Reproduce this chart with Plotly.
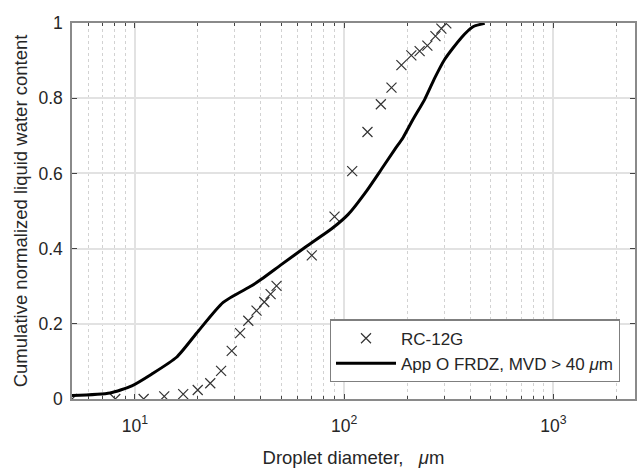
import plotly.graph_objects as go

# RC-12G measured points
rc_x = [5.0, 8.05, 11.0, 13.8, 17.0, 19.95, 22.9, 25.8, 29.0, 31.8, 34.8, 38.1, 41.5, 44.5, 47.5,
        70.0, 89.9, 109.2, 129.2, 149.7, 168.3, 187.7, 209.4, 229.4, 249.8, 273.0, 291.4, 307.7]
rc_y = [0.0, 0.0, 0.0, 0.007, 0.013, 0.024, 0.042, 0.075, 0.128, 0.175, 0.208, 0.235, 0.258, 0.279, 0.301,
        0.382, 0.485, 0.606, 0.710, 0.784, 0.828, 0.888, 0.914, 0.925, 0.940, 0.965, 0.985, 0.999]

# App O FRDZ, MVD > 40 um curve
app_x = [5.0, 7.6, 9.66, 12.0, 15.8, 20.1, 26.4, 36.1, 40.3, 50.2, 66.1, 88.6, 104.5, 127.8, 150.6,
         174.6, 191.0, 213.4, 242.6, 271.0, 302.0, 363.0, 412.8, 469.5]
app_y = [0.009, 0.016, 0.035, 0.066, 0.111, 0.181, 0.257, 0.301, 0.319, 0.358, 0.406, 0.456, 0.491,
         0.553, 0.611, 0.664, 0.695, 0.744, 0.797, 0.854, 0.903, 0.961, 0.990, 0.999]

x_major = [10, 100, 1000]
x_major_text = ["10<sup>1</sup>", "10<sup>2</sup>", "10<sup>3</sup>"]
x_minor = [6, 7, 8, 9, 20, 30, 40, 50, 60, 70, 80, 90, 200, 300, 400, 500, 600, 700, 800, 900, 2000]
y_ticks = [0, 0.2, 0.4, 0.6, 0.8, 1]
y_text = ["0", "0.2", "0.4", "0.6", "0.8", "1"]

font = "Liberation Sans, Arial, Helvetica, sans-serif"
txt = "#262626"
axc = "#8a8a8a"

fig = go.Figure()
fig.add_trace(go.Scatter(x=rc_x, y=rc_y, mode="markers", name="RC-12G",
                         marker=dict(symbol="x-thin-open", size=10, color="#333333",
                                     line=dict(width=1.2, color="#333333"))))
fig.add_trace(go.Scatter(x=app_x, y=app_y, mode="lines", name="App O FRDZ, MVD > 40 <i>μ</i>m",
                         line=dict(color="black", width=3, shape="spline", smoothing=0.6)))

fig.update_layout(
    width=640, height=468,
    margin=dict(l=72, r=3, t=23, b=68),
    paper_bgcolor="white", plot_bgcolor="white",
    font=dict(family=font, size=17, color=txt),
    legend=dict(x=0.973, xanchor="right", y=0.044, yanchor="bottom",
                bordercolor="#7f7f7f", borderwidth=1.2, bgcolor="white",
                itemwidth=60, font=dict(size=17, color=txt), tracegroupgap=0),
    showlegend=True,
)
fig.update_xaxes(
    type="log", range=[0.69897, 3.39], tickmode="array", tickvals=x_major, ticktext=x_major_text,
    showline=True, linecolor=axc, linewidth=1.5, mirror="allticks",
    ticks="inside", ticklen=5, tickcolor="#444",
    showgrid=True, gridcolor="#e2e2e2", gridwidth=1.5,
    minor=dict(tickmode="array", tickvals=x_minor, ticks="inside", ticklen=3, tickcolor="#444",
               showgrid=True, gridcolor="#d2d2d2", griddash="dot", gridwidth=1),
    tickfont=dict(size=17.5, color=txt), ticklabelstandoff=10,
    title=dict(text="Droplet diameter,&nbsp;&nbsp;&nbsp;<i>μ</i>m", font=dict(size=18.5, color=txt), standoff=16),
    zeroline=False,
)
fig.update_yaxes(
    range=[0, 1], tickmode="array", tickvals=y_ticks, ticktext=y_text,
    showline=True, linecolor=axc, linewidth=1.5, mirror="allticks",
    ticks="inside", ticklen=5, tickcolor="#444",
    showgrid=True, gridcolor="#e2e2e2", gridwidth=1.5,
    tickfont=dict(size=17.5, color=txt), ticklabelstandoff=4,
    title=dict(text="Cumulative normalized liquid water content", font=dict(size=18.5, color=txt), standoff=6),
    zeroline=False,
)
fig.write_html("out.html")
